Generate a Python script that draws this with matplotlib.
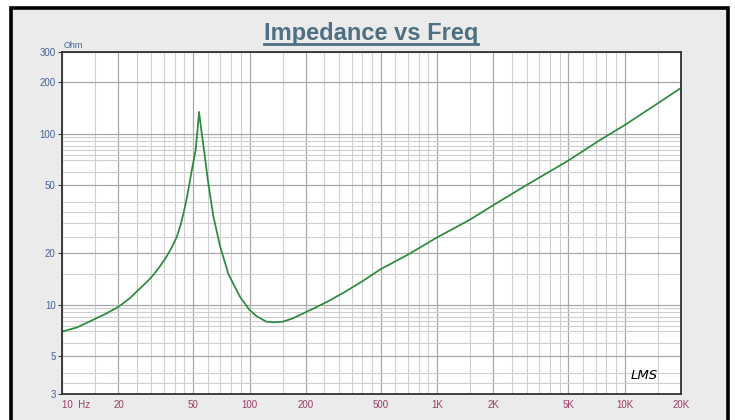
import numpy as np
import matplotlib
matplotlib.use('Agg')
import matplotlib.pyplot as plt
from matplotlib.patches import Rectangle
from matplotlib.lines import Line2D
from matplotlib.ticker import FixedLocator, NullFormatter

# ---- data ----
freq_hz = [10, 12, 14, 17, 20, 23, 26, 29, 31, 33.5, 36, 38.5, 41, 43, 44.4, 46, 47.2, 49.2,
           51.6, 52.8, 53.8, 55.3, 57.2, 60.3, 64.1, 69.6, 77, 82, 89, 100, 110, 123, 135,
           150, 170, 190, 220, 260, 320, 400, 500, 700, 1000, 1500, 2000, 3000, 5000,
           7400, 10000, 15000, 20000]
impedance_ohm = [6.95, 7.35, 7.95, 8.8, 9.7, 10.9, 12.4, 13.9, 15.1, 16.9, 19, 21.6, 25,
                 29.5, 34, 40.5, 47, 61, 80, 105, 134, 105, 80, 51, 33, 22, 15.2, 13.2,
                 11.1, 9.3, 8.5, 7.95, 7.88, 7.94, 8.3, 8.8, 9.5, 10.4, 11.8, 13.7, 16.1,
                 19.6, 24.7, 31.4, 38.2, 50, 69.4, 91.7, 112, 150, 185]

x_ticks = [10, 20, 50, 100, 200, 500, 1000, 2000, 5000, 10000, 20000]
x_tick_labels = ['10  Hz', '20', '50', '100', '200', '500', '1K', '2K', '5K', '10K', '20K']
y_ticks = [3, 5, 10, 20, 50, 100, 200, 300]
y_tick_labels = ['3', '5', '10', '20', '50', '100', '200', '300']

title_text = 'Impedance vs Freq'
y_unit = 'Ohm'
logo_text = 'LMS'

W, H = 735, 420
fig = plt.figure(figsize=(W / 100, H / 100), dpi=100)
fig.patch.set_facecolor('white')

# outer panel with thick black frame (runs off the bottom)
frame = Rectangle((11 / W, -0.05), (728 - 11) / W, 1.05 - 8 / H,
                  transform=fig.transFigure, facecolor='#ebebeb',
                  edgecolor='black', lw=2.6, zorder=-10)
fig.add_artist(frame)

# title (underlined)
title = fig.text(371 / W, 1 - 40 / H, title_text, ha='center', va='baseline',
                 fontsize=17, fontweight='bold', color='#4d7083',
                 family='Liberation Sans')

ax = fig.add_axes([62 / W, 1 - 394 / H, (681 - 62) / W, (394 - 52) / H])
ax.set_facecolor('white')
ax.set_xscale('log')
ax.set_yscale('log')
ax.set_xlim(10, 20000)
ax.set_ylim(3, 300)

# grid
x_minor = []
for dec in [10, 100, 1000, 10000]:
    for m in [1.5, 2.5, 3, 3.5, 4, 4.5, 6, 7, 8, 9]:
        v = dec * m
        if v < 20000:
            x_minor.append(v)
y_minor = []
for dec in [1, 10, 100]:
    for m in [1.5, 2.5, 3, 3.5, 4, 6, 7, 7.5, 8, 8.5, 9, 9.5]:
        v = dec * m
        if 3 < v < 100:
            y_minor.append(v)

ax.xaxis.set_major_locator(FixedLocator(x_ticks))
ax.xaxis.set_minor_locator(FixedLocator(x_minor))
ax.yaxis.set_major_locator(FixedLocator(y_ticks))
ax.yaxis.set_minor_locator(FixedLocator(y_minor))
ax.xaxis.set_minor_formatter(NullFormatter())
ax.yaxis.set_minor_formatter(NullFormatter())
ax.set_xticklabels(x_tick_labels)
ax.set_yticklabels(y_tick_labels)

ax.grid(True, which='major', color='#a8a8a8', lw=0.9)
ax.grid(True, which='minor', color='#cfcfcf', lw=0.8)
ax.set_axisbelow(True)

ax.tick_params(axis='x', which='both', length=0, pad=4.5, labelsize=7,
               labelcolor='#9e3d68')
ax.tick_params(axis='y', which='major', length=3, width=0.8, color='#444444',
               pad=1.5, labelsize=7, labelcolor='#43629a')
ax.tick_params(axis='y', which='minor', length=0)
for lab in ax.get_xticklabels() + ax.get_yticklabels():
    lab.set_family('Liberation Sans')
ax.get_xticklabels()[0].set_ha('left')

for s in ax.spines.values():
    s.set_color('#303030')
    s.set_linewidth(1.3)

ax.plot(freq_hz, impedance_ohm, color='#2c8a3c', lw=1.25, solid_joinstyle='round')

fig.text(64 / W, 1 - 45 / H, y_unit, ha='left', va='center', fontsize=6.5,
         color='#43629a', family='Liberation Sans')
ax.text(0.94, 0.035, logo_text, transform=ax.transAxes, ha='center', va='bottom',
        fontsize=9.5, style='italic', color='black', family='DejaVu Sans')

# underline the title
fig.canvas.draw()
bb = title.get_window_extent()
fig.add_artist(Line2D([bb.x0 / W, bb.x1 / W], [1 - 44 / H, 1 - 44 / H],
                      transform=fig.transFigure, color='#4d7083', lw=2))

fig.savefig('out.png', dpi=100, facecolor=fig.get_facecolor())
